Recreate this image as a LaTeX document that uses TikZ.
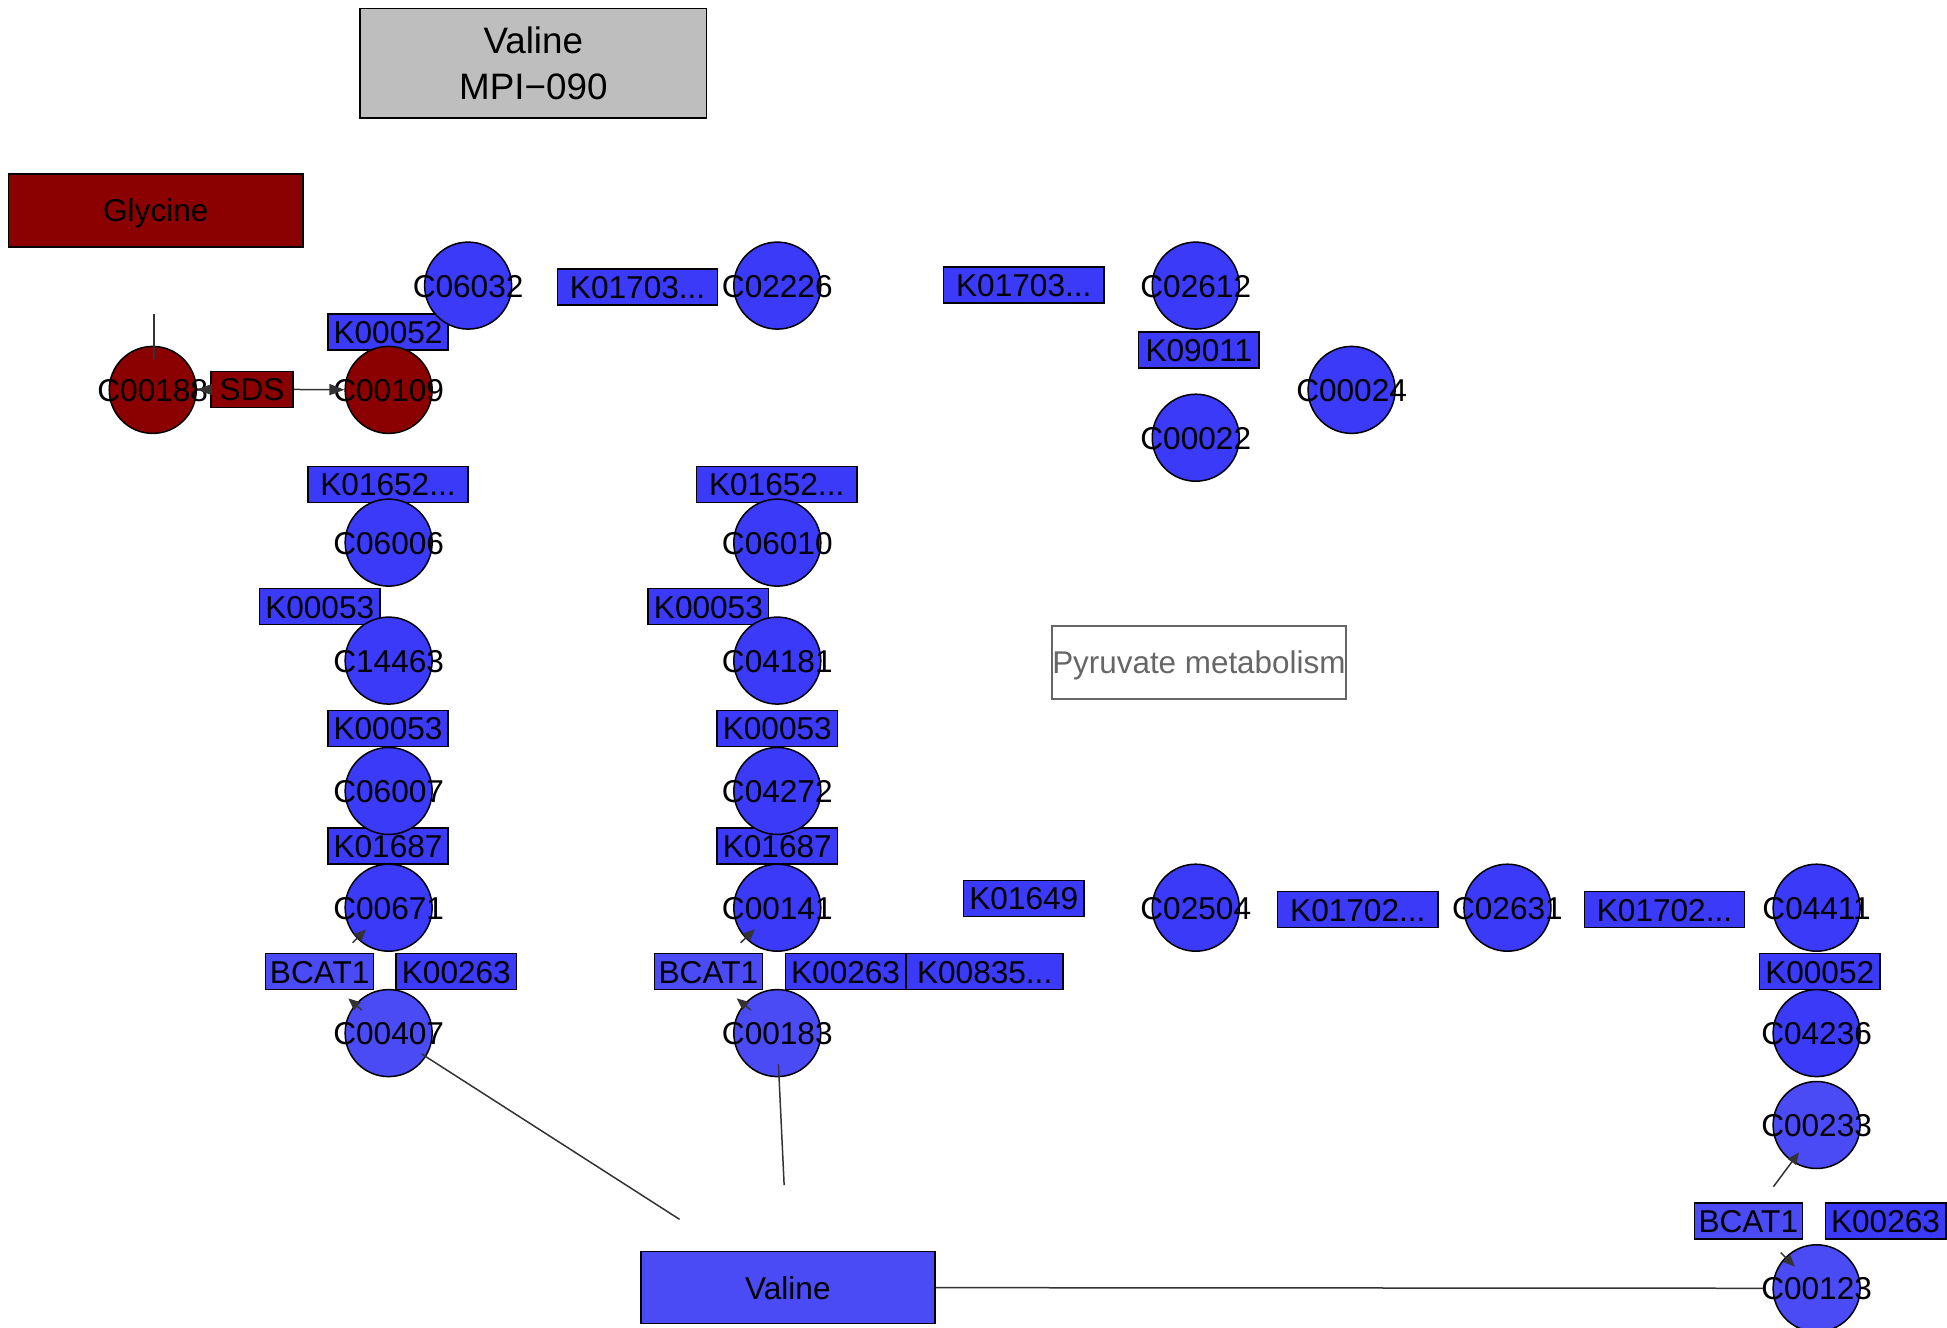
\documentclass[tikz,border=0pt]{standalone}
\usepackage{fontspec}
\setmainfont{Liberation Sans}
\usetikzlibrary{arrows.meta}
\definecolor{kblue}{HTML}{3A3AF8}
\definecolor{lblue}{HTML}{4B4BF5}
\definecolor{dred}{HTML}{8B0000}
\definecolor{tgray}{HTML}{BEBEBE}
\definecolor{egray}{HTML}{333333}
\definecolor{pgray}{HTML}{666666}
\begin{document}
\begin{tikzpicture}[x=0.62085pt,y=-0.62085pt,
  font=\fontsize{15.8}{23}\selectfont,
  box/.style={rectangle, draw=black, line width=0.75pt, inner sep=0pt, text depth=0pt, text height=11.5pt},
  gene/.style={box, fill=kblue, minimum height=18pt, minimum width=60.2pt},
  wgene/.style={gene, minimum width=80.1pt},
  bgene/.style={gene, fill=lblue, minimum width=54pt},
  cpd/.style={circle, draw=black, line width=0.75pt, fill=kblue, minimum size=43.5pt, inner sep=0pt},
  lcpd/.style={cpd, fill=lblue},
  rcpd/.style={cpd, fill=dred},
  clab/.style={inner sep=0pt, text depth=0pt, text height=11.5pt},
  edge/.style={draw=egray, line width=0.75pt},
  arr/.style={edge, -{Triangle[length=7.5pt,width=5.5pt]}},
  sarr/.style={edge, -{Triangle[length=6pt,width=5pt]}}]
\fill[white] (0,0) rectangle (1568,1069);
\path[use as bounding box] (0,0) rectangle (1568,1069);

% map / title boxes
\node[rectangle, draw=black, line width=0.75pt, fill=tgray, minimum width=173.2pt, minimum height=54.6pt, align=center,
      font=\fontsize{18.4}{23}\selectfont] (title) at (429.5,51) {Valine\\MPI−090};
\node[box, fill=dred, minimum width=147.1pt, minimum height=36.6pt] (glycine) at (125.5,169.5) {Glycine};
\node[box, draw=pgray, fill=white, text=pgray, minimum width=147.1pt, minimum height=36.6pt,
      font=\fontsize{15.7}{23}\selectfont] (pyruvate) at (965.5,533.5) {Pyruvate metabolism};
\node[box, fill=lblue, minimum width=147.1pt, minimum height=36pt] (valine) at (634.5,1037) {Valine};

% genes
\node[wgene] (k01703a) at (513.5,231) {K01703...};
\node[wgene] (k01703b) at (824.5,229.5) {K01703...};
\node[gene] (k00052a) at (312.5,267.5) {K00052};
\node[gene, fill=dred, minimum width=41pt] (sds) at (203,313.5) {SDS};
\node[gene] (k09011) at (965.5,282) {K09011};
\node[wgene] (k01652a) at (312.5,390) {K01652...};
\node[wgene] (k01652b) at (625.5,390) {K01652...};
\node[gene] (k00053a) at (257.5,488.5) {K00053};
\node[gene] (k00053b) at (570.5,488.5) {K00053};
\node[gene] (k00053c) at (312.5,586.5) {K00053};
\node[gene] (k00053d) at (626,586.5) {K00053};
\node[gene] (k01687a) at (312.5,681.5) {K01687};
\node[gene] (k01687b) at (626,681.5) {K01687};
\node[gene] (k01649) at (824.5,723.5) {K01649};
\node[wgene] (k01702a) at (1093.5,732.5) {K01702...};
\node[wgene] (k01702b) at (1340.5,732.5) {K01702...};
\node[bgene] (bcat1a) at (257.5,782.5) {BCAT1};
\node[gene] (k00263a) at (367.5,782.5) {K00263};
\node[bgene] (bcat1b) at (570.5,782.5) {BCAT1};
\node[gene] (k00263b) at (681,782.5) {K00263};
\node[gene, minimum width=78.2pt] (k00835) at (793,782.5) {K00835...};
\node[gene] (k00052b) at (1465.5,782.5) {K00052};
\node[bgene] (bcat1c) at (1408,983.5) {BCAT1};
\node[gene] (k00263c) at (1518.5,983.5) {K00263};

% compounds
\node[cpd, label={[clab]center:C06032}] (c06032) at (377,230) {};
\node[cpd, label={[clab]center:C02226}] (c02226) at (626,230) {};
\node[cpd, label={[clab]center:C02612}] (c02612) at (963,230) {};
\node[rcpd, label={[clab]center:C00188}] (c00188) at (123,314) {};
\node[rcpd, label={[clab]center:C00109}] (c00109) at (313,314) {};
\node[cpd, label={[clab]center:C00024}] (c00024) at (1088.5,314) {};
\node[cpd, label={[clab]center:C00022}] (c00022) at (963,352.5) {};
\node[cpd, label={[clab]center:C06006}] (c06006) at (313,437) {};
\node[cpd, label={[clab]center:C06010}] (c06010) at (626,437) {};
\node[cpd, label={[clab]center:C14463}] (c14463) at (313,532) {};
\node[cpd, label={[clab]center:C04181}] (c04181) at (626,532) {};
\node[cpd, label={[clab]center:C06007}] (c06007) at (313,637) {};
\node[cpd, label={[clab]center:C04272}] (c04272) at (626,637) {};
\node[cpd, label={[clab]center:C00671}] (c00671) at (313,731) {};
\node[cpd, label={[clab]center:C00141}] (c00141) at (626,731) {};
\node[cpd, label={[clab]center:C02504}] (c02504) at (963,731) {};
\node[cpd, label={[clab]center:C02631}] (c02631) at (1214,731) {};
\node[cpd, label={[clab]center:C04411}] (c04411) at (1463,731) {};
\node[lcpd, label={[clab]center:C00407}] (c00407) at (313,832) {};
\node[lcpd, label={[clab]center:C00183}] (c00183) at (626,832) {};
\node[cpd, label={[clab]center:C04236}] (c04236) at (1463,832) {};
\node[lcpd, label={[clab]center:C00233}] (c00233) at (1463,906) {};
\node[lcpd, label={[clab]center:C00123}] (c00123) at (1463,1037.5) {};

% edge fragments
\coordinate (gA) at (124,252.9);
\coordinate (gB) at (124,289.1);
\draw[edge] (gA) -- (gB);
\draw[arr] (sds) -- (c00188);
\draw[arr] (sds) -- (c00109);

\coordinate (a1t) at (284.0,759.2); \coordinate (a1h) at (294.8,748.4);
\coordinate (a2t) at (291.3,813.4); \coordinate (a2h) at (280.5,804.0);
\coordinate (a3t) at (596.5,759.2); \coordinate (a3h) at (608.0,748.4);
\coordinate (a4t) at (604.6,813.4); \coordinate (a4h) at (593.3,804.0);
\coordinate (a5t) at (1428.2,955.7); \coordinate (a5h) at (1448.8,928.0);
\coordinate (a6t) at (1434.1,1008.8); \coordinate (a6h) at (1445.6,1020.1);
\draw[sarr] (a1t) -- (a1h);
\draw[sarr] (a2t) -- (a2h);
\draw[sarr] (a3t) -- (a3h);
\draw[sarr] (a4t) -- (a4h);
\draw[sarr] (a5t) -- (a5h);
\draw[sarr] (a6t) -- (a6h);

\coordinate (v1s) at (339.6,848.8); \coordinate (v1e) at (547.3,982.0);
\coordinate (v2s) at (626.9,857.1); \coordinate (v2e) at (631.5,954.4);
\coordinate (v3e) at (1420,1037.5);
\draw[edge] (v1s) -- (v1e);
\draw[edge] (v2s) -- (v2e);
\draw[edge] (valine.east) -- (v3e);
\end{tikzpicture}
\end{document}
